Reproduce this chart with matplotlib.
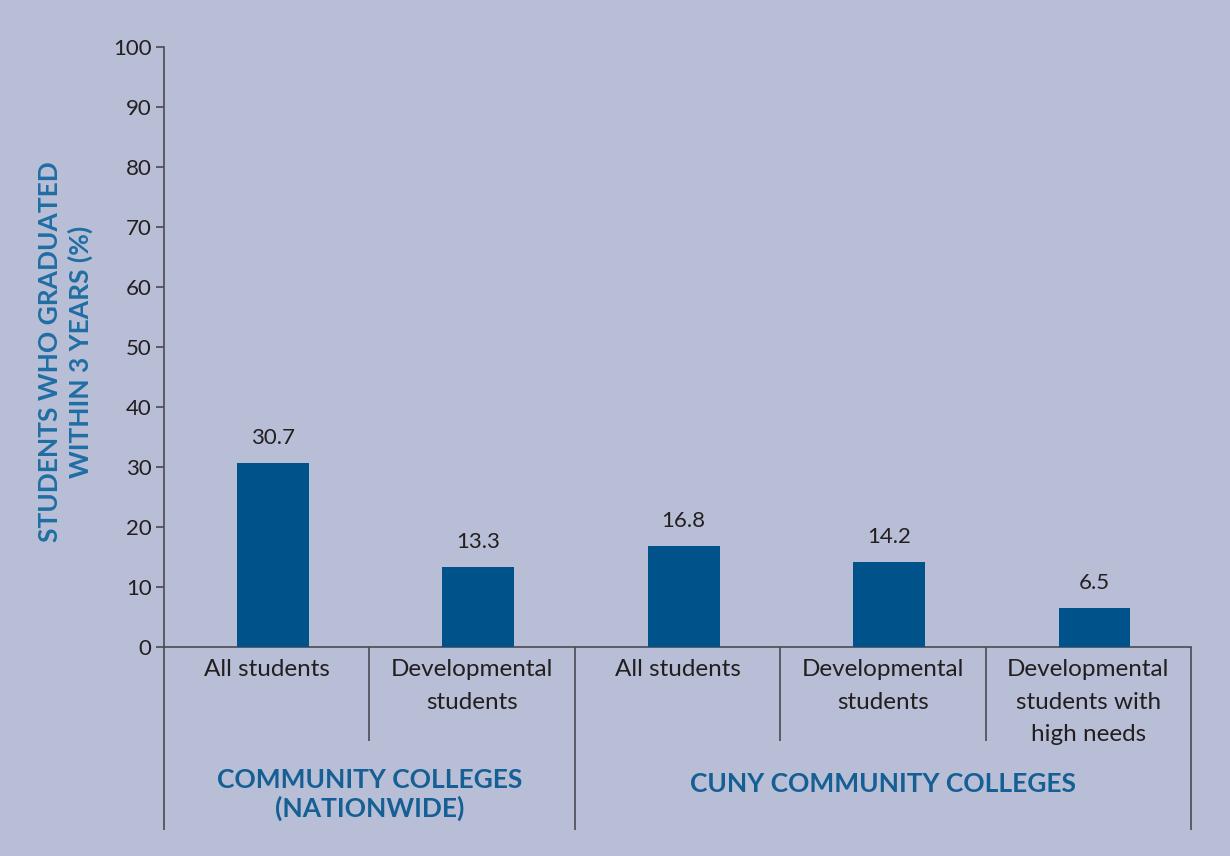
import matplotlib.pyplot as plt

# graduation rates within 3 years (%)
categories = ["All students", "Developmental\nstudents", "All students",
              "Developmental\nstudents", "Developmental\nstudents with\nhigh needs"]
rates = [30.7, 13.3, 16.8, 14.2, 6.5]
value_labels = ["30.7", "13.3", "16.8", "14.2", "6.5"]
groups = ["COMMUNITY COLLEGES\n(NATIONWIDE)", "CUNY COMMUNITY COLLEGES"]
group_spans = [(0, 2), (2, 5)]
yticks = [0, 10, 20, 30, 40, 50, 60, 70, 80, 90, 100]

BG = "#b8bed6"
BAR = "#00538a"
BLUE = "#155f94"
INK = "#231f20"
RULE = "#4a4a52"

plt.rcParams["font.family"] = ["Lato", "DejaVu Sans"]

fig = plt.figure(figsize=(12.3, 8.56), dpi=100, facecolor=BG)
ax = fig.add_axes([0.1333, 0.2442, 0.835, 0.7009])
ax.set_facecolor(BG)

x = list(range(len(rates)))
ax.bar([i + 0.03 for i in x], rates, width=0.35, color=BAR, zorder=3)

for i, (v, lab) in enumerate(zip(rates, value_labels)):
    ax.text(i + 0.03, v + 2.5, lab, ha="center", va="bottom",
            fontsize=16, color=INK)

ax.set_xlim(-0.5, len(rates) - 0.5)
ax.set_ylim(0, 100)
ax.set_yticks(yticks)
ax.set_yticklabels([str(t) for t in yticks], fontsize=16, color=INK)
ax.tick_params(axis="y", length=6, width=1.2, color=RULE, pad=3)
ax.set_xticks([])

for s in ["top", "right"]:
    ax.spines[s].set_visible(False)
ax.spines["left"].set_color(RULE)
ax.spines["left"].set_linewidth(1.2)
ax.spines["bottom"].set_color(RULE)
ax.spines["bottom"].set_linewidth(1.2)

# category labels under the axis
for i, c in enumerate(categories):
    ax.text(i, -2.0, c, ha="center", va="top", fontsize=17.5, color=INK,
            linespacing=1.68)

# separators between categories and groups
group_edges = {g[0] for g in group_spans} | {group_spans[-1][1]}
for k in range(len(rates) + 1):
    bottom = -30.5 if k in group_edges else -15.7
    ax.plot([k - 0.5, k - 0.5], [0, bottom], color=RULE, lw=1.2,
            clip_on=False, solid_capstyle="butt")

# group labels
for (a, b), g in zip(group_spans, groups):
    yy = -24.6 if "\n" in g else -22.9
    ax.text((a + b - 1) / 2, yy, g, ha="center", va="center", fontsize=19,
            fontweight="bold", color=BLUE, linespacing=1.2)

fig.text(0.0535, 0.589, "STUDENTS WHO GRADUATED\nWITHIN 3 YEARS (%)",
         rotation=90, ha="center", va="center", fontsize=19,
         fontweight="bold", color="#1f6ea3", linespacing=1.28)

fig.savefig("out.png", dpi=100, facecolor=BG)
